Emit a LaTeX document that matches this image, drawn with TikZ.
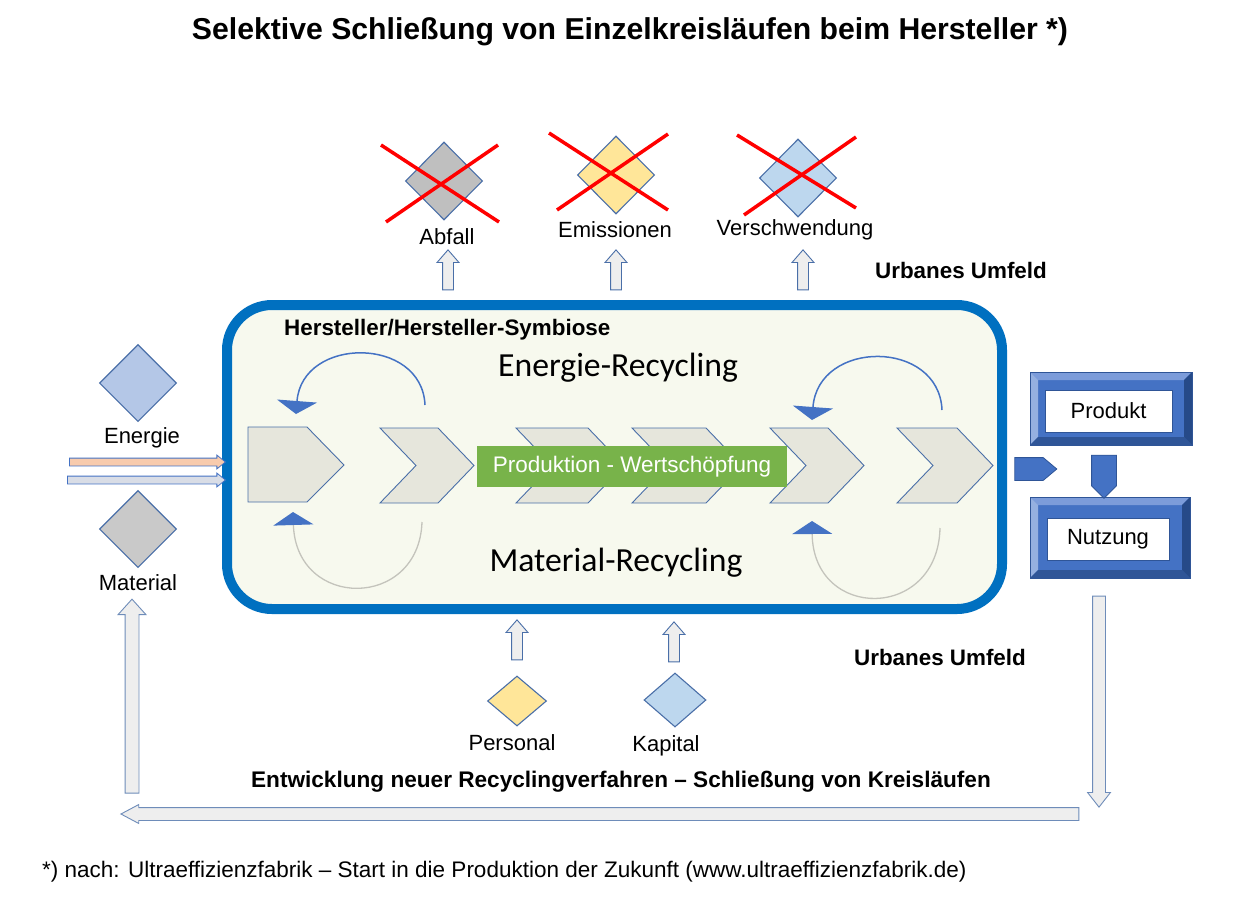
\documentclass[tikz,border=0pt]{standalone}
\usepackage{fontspec}
\setmainfont{Liberation Sans}
\newfontfamily\calib{Carlito}
\usetikzlibrary{shapes.geometric,shapes.arrows,arrows.meta}

\definecolor{mainblue}{HTML}{0070C0}
\definecolor{edgeblue}{HTML}{4A6FA8}
\definecolor{accblue}{HTML}{4472C4}
\definecolor{cream}{HTML}{F7F9EE}
\definecolor{chev}{HTML}{E6E6DC}
\definecolor{grn}{HTML}{78B34A}
\definecolor{dgray}{HTML}{BFBFBF}
\definecolor{mgray}{HTML}{C9C9C9}
\definecolor{yel}{HTML}{FFE699}
\definecolor{lblue}{HTML}{BDD7EE}
\definecolor{eblue}{HTML}{B4C7E7}
\definecolor{peach}{HTML}{F8CBAD}
\definecolor{hollow}{HTML}{EEEEEE}
\definecolor{lowarr}{HTML}{D9DDE6}
\definecolor{loopgray}{HTML}{C4C4BC}
\definecolor{bevlight}{HTML}{7C9CDA}
\definecolor{bevlightb}{HTML}{95B0E0}
\definecolor{bevdark}{HTML}{2F5597}
\definecolor{bevdarkb}{HTML}{264A88}

\newcommand\bevelframe[5]{%
  \fill[accblue] (#1,#2) rectangle (#3,#4);
  \fill[bevlight] (#1,#2) -- (#3,#2) -- ({#3-#5},{#2+#5}) -- ({#1+#5},{#2+#5}) -- cycle;
  \fill[bevlightb] (#1,#2) -- ({#1+#5},{#2+#5}) -- ({#1+#5},{#4-#5}) -- (#1,#4) -- cycle;
  \fill[bevdark] (#1,#4) -- (#3,#4) -- ({#3-#5},{#4-#5}) -- ({#1+#5},{#4-#5}) -- cycle;
  \fill[bevdarkb] (#3,#2) -- (#3,#4) -- ({#3-#5},{#4-#5}) -- ({#3-#5},{#2+#5}) -- cycle;
  \draw[bevdark, line width=0.6pt] (#1,#2) rectangle (#3,#4);
}
\newcommand\chevronshape[2]{%
  \draw[chevron] (#1,428) -- ({#1+#2},428) -- ({#1+#2+36},465.5) -- ({#1+#2},503) -- (#1,503) -- ({#1+36},465.5) -- cycle;
}

\begin{document}
\begin{tikzpicture}[x=1pt,y=-1pt,
  lbl/.style={font=\fontsize{22}{24}\selectfont, inner sep=0pt},
  blbl/.style={font=\bfseries\fontsize{22.4}{25}\selectfont, inner sep=0pt},
  dia/.style={diamond, draw=edgeblue, line width=1.1pt, inner sep=0pt},
  hol/.style={single arrow, draw=edgeblue, fill=hollow, line width=0.9pt, inner xsep=0pt},
  ptr/.style={single arrow, draw=bevdark, fill=accblue, line width=0.8pt, inner xsep=0pt, single arrow head extend=0pt},
  chevron/.style={draw=edgeblue, fill=chev, line width=0.9pt},
  redx/.style={draw=red, line width=3.5pt},
  toploop/.style={draw=accblue, line width=1.5pt, -{Triangle[width=40pt,length=13pt]}},
  botloop/.style={draw=loopgray, line width=1.3pt, -{Triangle[width=40pt,length=13pt,color=accblue,fill=accblue]}},
]
\useasboundingbox (0,0) rectangle (1258,900);
\fill[white] (0,0) rectangle (1258,900);

% title
\node[font=\bfseries\fontsize{30.2}{33}\selectfont] (title) at (630,32) {Selektive Schließung von Einzelkreisläufen beim Hersteller *)};

% main frame
\node[draw=mainblue, line width=10pt, fill=cream, rounded corners=45pt, minimum width=775pt, minimum height=304pt, inner sep=0pt] (main) at (614.5,457) {};

\node[blbl, anchor=west] (symb) at (284,330) {Hersteller/Hersteller-Symbiose};
\node[font=\calib\fontsize{33.7}{37}\selectfont] (erec) at (618,368) {Energie-Recycling};
\node[font=\calib\fontsize{33.7}{37}\selectfont] (mrec) at (616,563) {Material-Recycling};

% chevrons
\draw[chevron] (248,427) -- (307,427) -- (344,465) -- (307,502) -- (248,502) -- cycle;
\chevronshape{380}{58}
\chevronshape{516}{72}
\chevronshape{632}{74}
\chevronshape{770}{58}
\chevronshape{897}{60}

\node[fill=grn, minimum width=310pt, minimum height=41pt, inner sep=0pt, text=white, font=\fontsize{22.5}{24}\selectfont] (prodbar) at (632,466.5) {Produktion - Wertschöpfung};

% loops
\draw[toploop] (425,405) .. controls (422,336) and (302,336) .. (296,414);
\draw[botloop] (422,522) .. controls (419,610) and (296,610) .. (293,512);
\draw[toploop] (942,410) .. controls (939,339) and (818,339) .. (812,420);
\draw[botloop] (940,528) .. controls (938,621) and (813,621) .. (812,521);

% top outputs
\node[dia, fill=dgray, minimum width=77pt, minimum height=78pt] (abf) at (444,181) {};
\node[dia, fill=yel, minimum width=77pt, minimum height=78pt] (emi) at (616,175) {};
\node[dia, fill=lblue, minimum width=77pt, minimum height=78pt] (ver) at (798,178) {};
\draw[redx] (381,145) -- (499,222);
\draw[redx] (386,222) -- (498,145);
\draw[redx] (549,133) -- (668,210);
\draw[redx] (557,210) -- (668,134);
\draw[redx] (737,135) -- (856,208);
\draw[redx] (744,215) -- (856,137);
\node[lbl] (abfl) at (447,237) {Abfall};
\node[lbl] (emil) at (615,230) {Emissionen};
\node[lbl] (verl) at (795,230) {Verschwendung};

\node[hol, inner ysep=5pt, single arrow head extend=5.5pt, single arrow tip angle=82, minimum height=40pt, rotate=90] (aabf) at (448,273) {};
\node[hol, inner ysep=5pt, single arrow head extend=5.5pt, single arrow tip angle=82, minimum height=40pt, rotate=90] (aemi) at (616,273) {};
\node[hol, inner ysep=5pt, single arrow head extend=5.5pt, single arrow tip angle=82, minimum height=40pt, rotate=90] (aver) at (803,273) {};

\node[blbl] (urb1) at (961,270) {Urbanes Umfeld};
\node[blbl] (urb2) at (940,657) {Urbanes Umfeld};

% left inputs
\node[dia, fill=eblue, minimum width=77pt, minimum height=77pt] (ene) at (138,383) {};
\node[lbl] (enel) at (142,438) {Energie};
\node[dia, fill=mgray, minimum width=77pt, minimum height=77pt] (mat) at (138,529) {};
\node[lbl] (matl) at (138,583) {Material};
\node[single arrow, draw=accblue, fill=peach, line width=0.8pt, inner xsep=0pt, inner ysep=3.5pt, single arrow head extend=3pt, single arrow tip angle=78, minimum height=156pt] (ain1) at (145,462) {};
\node[single arrow, draw=accblue, fill=lowarr, line width=0.8pt, inner xsep=0pt, inner ysep=3.5pt, single arrow head extend=3pt, single arrow tip angle=78, minimum height=158pt] (ain2) at (144,480) {};

% bottom inputs
\node[hol, inner ysep=5pt, single arrow head extend=5.5pt, single arrow tip angle=82, minimum height=40pt, rotate=90] (aper) at (517,643) {};
\node[hol, inner ysep=5pt, single arrow head extend=5.5pt, single arrow tip angle=82, minimum height=40pt, rotate=90] (akap) at (674,645) {};
\node[dia, fill=yel, minimum width=59pt, minimum height=50pt] (per) at (517,701) {};
\node[dia, fill=lblue, minimum width=62pt, minimum height=54pt] (kap) at (675,700) {};
\node[lbl] (perl) at (512,743) {Personal};
\node[lbl] (kapl) at (666,746) {Kapital};

% right: Produkt / Nutzung
\bevelframe{1030}{372}{1192}{445}{8}
\bevelframe{1030}{497}{1190}{578}{8}
\node[draw=bevdark, line width=0.6pt, fill=white, minimum width=127pt, minimum height=42pt, inner sep=0pt, lbl] (prod) at (1108.5,411) {Produkt};
\node[draw=bevdark, line width=0.6pt, fill=white, minimum width=122pt, minimum height=42pt, inner sep=0pt, lbl] (nutz) at (1108,539) {Nutzung};
\node[ptr, inner ysep=11pt, single arrow tip angle=80, minimum height=42pt] (aout) at (1029,469) {};
\node[ptr, inner ysep=12pt, single arrow tip angle=90, minimum height=43pt, rotate=-90] (apn) at (1104,470.5) {};

% return loop
\node[hol, draw=edgeblue!80, inner ysep=6pt, single arrow head extend=5pt, single arrow tip angle=76, minimum height=211pt, rotate=-90] (aret1) at (1099,697.5) {};
\node[hol, draw=edgeblue!80, inner ysep=6pt, single arrow head extend=3pt, single arrow tip angle=56, minimum height=958pt, rotate=180] (aret2) at (606,814) {};
\node[hol, draw=edgeblue!80, inner ysep=6.5pt, single arrow head extend=7pt, single arrow tip angle=84, minimum height=194pt, rotate=90] (aret3) at (132,700) {};

\node[blbl, font=\bfseries\fontsize{22.6}{25}\selectfont] (entw) at (621,782) {Entwicklung neuer Recyclingverfahren – Schließung von Kreisläufen};

\node[anchor=west, inner sep=0pt, font=\fontsize{22.5}{25}\selectfont] (foot) at (42,872) {*) nach: Ultraeffizienzfabrik – Start in die Produktion der Zukunft (www.ultraeffizienzfabrik.de)};
\end{tikzpicture}
\end{document}
